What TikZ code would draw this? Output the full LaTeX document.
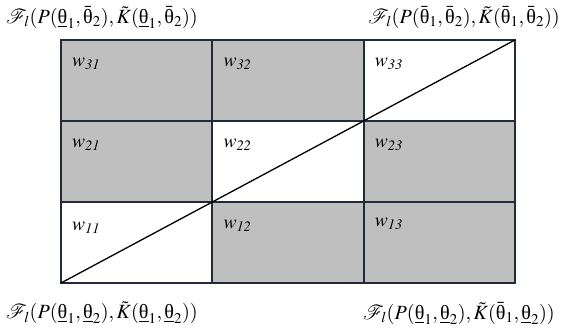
\documentclass[tikz,border=0pt]{standalone}
\usepackage{mathptmx}
\usepackage[no-math]{fontspec}
\newfontfamily\greekfont{Liberation Serif}
\usepackage{xcolor}
\usepackage{tikz}
\usetikzlibrary{positioning}
\definecolor{frame}{HTML}{232B38}
\newcommand{\uth}{\mbox{\greekfont θ}}

\begin{document}
\begin{tikzpicture}[
    x=1pt, y=-1pt,
    cell/.style={
      rectangle, draw=frame, line width=2pt,
      minimum width=151.3pt, minimum height=81pt,
      inner sep=0pt, outer sep=0pt
    },
    shaded/.style={cell, fill=black!25},
    blank/.style={cell, fill=white},
    wlab/.style={font=\fontsize{19.5}{22}\selectfont, inner sep=0pt, anchor=base west},
    corner/.style={font=\fontsize{20.2}{23}\selectfont, inner sep=0pt},
    diag/.style={draw=black, line width=1.3pt},
    node distance=0pt
  ]
  \useasboundingbox (0,0) rectangle (563,331);

  % grid of weights
  \node[shaded] (c31) at (136.65,80.5) {};
  \node[shaded, right=of c31] (c32) {};
  \node[blank,  right=of c32] (c33) {};
  \node[shaded, below=of c31] (c21) {};
  \node[blank,  right=of c21] (c22) {};
  \node[shaded, right=of c22] (c23) {};
  \node[blank,  below=of c21] (c11) {};
  \node[shaded, right=of c11] (c12) {};
  \node[shaded, right=of c12] (c13) {};

  \draw[diag] (c11.south west) -- (c33.north east);

  \node[wlab] (w31) at ([shift={(11,27)}]c31.north west) {$w_{\mathit{31}}$};
  \node[wlab] (w32) at ([shift={(11,27)}]c32.north west) {$w_{\mathit{32}}$};
  \node[wlab] (w33) at ([shift={(11,27)}]c33.north west) {$w_{\mathit{33}}$};
  \node[wlab] (w21) at ([shift={(11,27)}]c21.north west) {$w_{\mathit{21}}$};
  \node[wlab] (w22) at ([shift={(11,27)}]c22.north west) {$w_{\mathit{22}}$};
  \node[wlab] (w23) at ([shift={(11,27)}]c23.north west) {$w_{\mathit{23}}$};
  \node[wlab] (w11) at ([shift={(11,29)}]c11.north west) {$w_{\mathit{11}}$};
  \node[wlab] (w12) at ([shift={(11,27)}]c12.north west) {$w_{\mathit{12}}$};
  \node[wlab] (w13) at ([shift={(11,25)}]c13.north west) {$w_{\mathit{13}}$};

  % corner values
  \node[corner, anchor=west] (ftl) at (6,17)
    {$\mathcal{F}_l(P(\underline{\uth}_1,\bar{\uth}_2),\tilde{K}(\underline{\uth}_1,\bar{\uth}_2))$};
  \node[corner, anchor=east] (ftr) at (560,17)
    {$\mathcal{F}_l(P(\bar{\uth}_1,\bar{\uth}_2),\tilde{K}(\bar{\uth}_1,\bar{\uth}_2))$};
  \node[corner, anchor=west] (fbl) at (6,313)
    {$\mathcal{F}_l(P(\underline{\uth}_1,\underline{\uth}_2),\tilde{K}(\underline{\uth}_1,\underline{\uth}_2))$};
  \node[corner, anchor=east] (fbr) at (555,313)
    {$\mathcal{F}_l(P(\underline{\uth}_1,\underline{\uth}_2),\tilde{K}(\bar{\uth}_1,\underline{\uth}_2))$};
\end{tikzpicture}
\end{document}
